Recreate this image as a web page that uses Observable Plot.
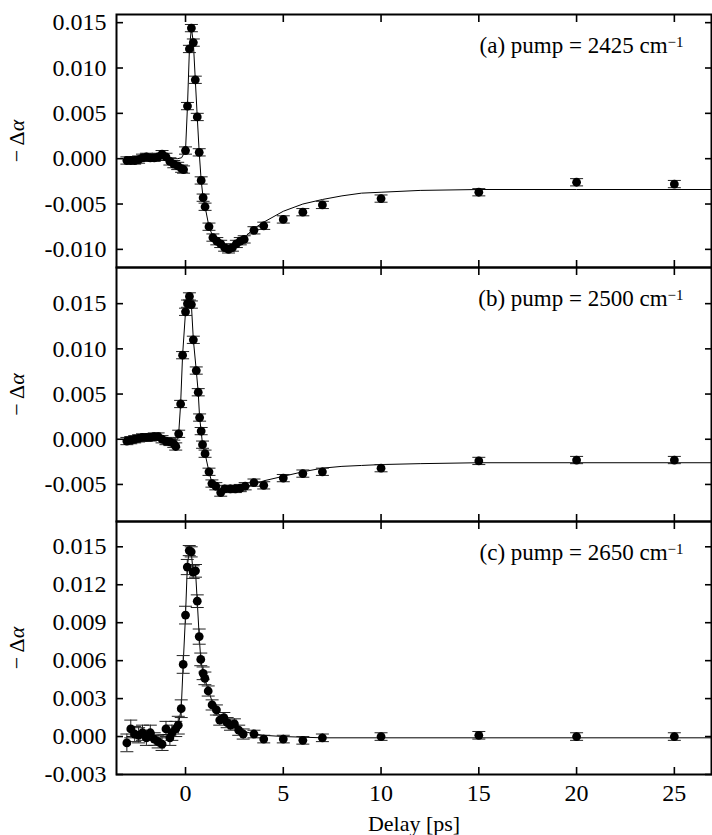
<!DOCTYPE html>
<html><head><meta charset="utf-8">
<script src="https://cdn.jsdelivr.net/npm/d3@7"></script>
<script src="https://cdn.jsdelivr.net/npm/@observablehq/plot@0.6"></script>
<style>
body{margin:0;background:#fff;}
#chart{width:712px;}
#chart svg{display:block;overflow:visible;background:none !important;font-family:"Liberation Serif","DejaVu Serif",serif !important;font-size:24px !important;}
#chart svg text{font-family:"Liberation Serif","DejaVu Serif",serif !important;}
</style></head><body><div id="chart"></div>
<script>
const xTicks = [0, 5, 10, 15, 20, 25];
const xLabel = "Delay [ps]";
const yLabel = "−Δα";

// (a) pump = 2425 cm-1
const aTitle = "(a) pump = 2425 cm";
const aDelay = [-3.0,-2.8,-2.6,-2.4,-2.2,-2.0,-1.8,-1.6,-1.4,-1.2,-1.0,-0.8,-0.6,-0.4,-0.2,-0.1,0.0,0.1,0.2,0.3,0.4,0.5,0.6,0.7,0.8,0.9,1.0,1.2,1.4,1.6,1.8,2.0,2.2,2.4,2.6,2.8,3.0,3.5,4,5,6,7,10,15,20,25];
const aSignal = [-0.0002,-0.0002,-0.0002,-0.0001,0.0001,0.0002,0.0001,0.0001,0.0002,0.0005,0.0002,-0.0003,-0.0006,-0.0008,-0.0011,-0.0012,0.0009,0.0058,0.0121,0.0144,0.0128,0.0087,0.0046,0.0007,-0.0024,-0.0043,-0.0053,-0.0075,-0.0087,-0.0091,-0.0094,-0.0098,-0.0100,-0.0098,-0.0094,-0.0091,-0.0089,-0.0079,-0.0074,-0.0067,-0.0059,-0.0051,-0.0044,-0.0037,-0.0026,-0.0028];
const aError = 0.0004;
const aFitDelay = [-3.0,-0.4,-0.2,0.0,0.1,0.2,0.3,0.4,0.5,0.6,0.7,0.8,0.9,1.0,1.2,1.4,1.7,2.0,2.2,2.5,3.0,3.5,4,5,6,7,8,9,10,12,15,20,27];
const aFitSignal = [0.0,0.0,0.0001,0.0009,0.0058,0.0121,0.0144,0.0128,0.0087,0.0046,0.0007,-0.0024,-0.0043,-0.0053,-0.0075,-0.0086,-0.0093,-0.0097,-0.0099,-0.0096,-0.0087,-0.0077,-0.0070,-0.0058,-0.0050,-0.0045,-0.0041,-0.0038,-0.0037,-0.0035,-0.0034,-0.0034,-0.0034];
const aYDomain = [-0.012, 0.0159];
const aYTicks = [-0.010, -0.005, 0.000, 0.005, 0.010, 0.015];

// (b) pump = 2500 cm-1
const bTitle = "(b) pump = 2500 cm";
const bDelay = [-3.0,-2.8,-2.6,-2.4,-2.2,-2.0,-1.8,-1.6,-1.4,-1.2,-1.0,-0.8,-0.6,-0.5,-0.35,-0.25,-0.15,0.0,0.1,0.2,0.3,0.4,0.55,0.65,0.72,0.8,0.87,1.0,1.2,1.35,1.55,1.8,2.0,2.3,2.55,2.8,3.05,3.5,4,5,6,7,10,15,20,25];
const bSignal = [-0.0002,-0.0001,0.0000,0.0001,0.0002,0.0002,0.0002,0.0003,0.0003,0.0000,-0.0002,-0.0003,-0.0005,-0.0008,0.0006,0.0039,0.0093,0.0141,0.0150,0.0158,0.0149,0.0110,0.0076,0.0052,0.0024,0.0009,-0.0006,-0.0016,-0.0036,-0.0049,-0.0052,-0.0059,-0.0055,-0.0055,-0.0055,-0.0054,-0.0052,-0.0048,-0.0051,-0.0043,-0.0038,-0.0036,-0.0032,-0.0024,-0.0023,-0.0023];
const bError = 0.0004;
const bFitDelay = [-3.0,-0.4,-0.35,-0.25,-0.15,0.0,0.1,0.2,0.3,0.4,0.55,0.65,0.72,0.8,0.87,1.0,1.2,1.35,1.55,1.8,2.0,2.5,3.0,3.5,4,5,6,7,8,9,10,12,15,27];
const bFitSignal = [0.0,0.0,0.0006,0.0039,0.0093,0.0141,0.0150,0.0158,0.0149,0.0110,0.0076,0.0052,0.0024,0.0009,-0.0006,-0.0016,-0.0036,-0.0048,-0.0053,-0.0056,-0.0056,-0.0055,-0.0053,-0.0050,-0.0046,-0.0041,-0.0036,-0.0032,-0.0030,-0.0029,-0.0028,-0.0027,-0.0026,-0.0026];
const bYDomain = [-0.0091, 0.019];
const bYTicks = [-0.005, 0.000, 0.005, 0.010, 0.015];

// (c) pump = 2650 cm-1
const cTitle = "(c) pump = 2650 cm";
const cDelay = [-3.0,-2.8,-2.6,-2.4,-2.2,-2.0,-1.8,-1.6,-1.4,-1.2,-1.0,-0.8,-0.7,-0.5,-0.37,-0.22,-0.12,0.0,0.09,0.19,0.29,0.39,0.51,0.6,0.7,0.78,0.9,0.99,1.16,1.36,1.58,1.75,1.96,2.13,2.3,2.5,2.72,2.95,3.5,4,5,6,7,10,15,20,25];
const cSignal = [-0.0005,0.0006,0.0002,0.0001,0.0003,-0.0001,0.0003,-0.0002,-0.0004,-0.0006,0.0006,-0.0001,0.0003,0.0006,0.0009,0.0022,0.0057,0.0096,0.0134,0.0147,0.0146,0.0130,0.0131,0.0107,0.0079,0.0061,0.0050,0.0046,0.0036,0.0025,0.0021,0.0013,0.0015,0.0011,0.0009,0.0010,0.0005,0.0002,0.0002,-0.0002,-0.0002,-0.0003,-0.0001,0.0000,0.0001,0.0000,0.0000];
const cErrors = [0.0007,0.0007,0.0006,0.0006,0.0006,0.0006,0.0006,0.0005,0.0005,0.0005,0.0006,0.0006,0.0006,0.0006,0.0007,0.0007,0.0007,0.0007,0.0006,0.0004,0.0004,0.0005,0.0005,0.0005,0.0006,0.0005,0.0005,0.0005,0.0004,0.0004,0.0004,0.0004,0.0004,0.0004,0.0004,0.0004,0.0004,0.0004,0.0003,0.0003,0.0003,0.0003,0.0003,0.0003,0.0003,0.0003,0.0003];
const cFitDelay = [-3.0,-0.6,-0.37,-0.22,-0.12,0.0,0.09,0.19,0.29,0.39,0.51,0.6,0.7,0.78,0.9,1.0,1.2,1.4,1.6,1.8,2.0,2.3,2.6,3.0,3.5,4,5,7,27];
const cFitSignal = [0.0,0.0002,0.0009,0.0022,0.0057,0.0096,0.0134,0.0147,0.0146,0.0130,0.0131,0.0107,0.0079,0.0061,0.0050,0.0045,0.0035,0.0026,0.0020,0.0016,0.0013,0.0010,0.0007,0.0004,0.0002,0.0001,0.0000,-0.0001,-0.0001];
const cYDomain = [-0.003, 0.017];
const cYTicks = [-0.003, 0.000, 0.003, 0.006, 0.009, 0.012, 0.015];

const xDomain = [-3.53, 26.9];

const capSymbol = {
  draw(context, size) {
    const r = Math.sqrt(size / Math.PI);
    context.moveTo(-r, 0);
    context.lineTo(r, 0);
  }
};
const fmtY = d => (d < 0 ? "-" : "") + Math.abs(d).toFixed(3);
const blank = () => "";

function panel({delay, signal, errors, fitDelay, fitSignal, yDomain, yTicks, title, marginTop, marginBottom, height, showX}) {
  const pts = delay.map((x, i) => {
    const e = Array.isArray(errors) ? errors[i] : errors;
    return {x, y: signal[i], lo: signal[i] - e, hi: signal[i] + e};
  });
  const fit = fitDelay.map((x, i) => ({x, y: fitSignal[i]}));
  const svg = Plot.plot({
    width: 712, height, marginLeft: 116, marginRight: 1, marginTop, marginBottom,
    x: {domain: xDomain},
    y: {domain: yDomain},
    marks: [
      Plot.line(fit, {x: "x", y: "y", stroke: "black", strokeWidth: 1}),
      Plot.ruleX(pts, {x: "x", y1: "lo", y2: "hi", stroke: "#222", strokeWidth: 1}),
      Plot.dot(pts, {x: "x", y: "lo", symbol: capSymbol, r: 6.5, stroke: "#222", fill: "none", strokeWidth: 1}),
      Plot.dot(pts, {x: "x", y: "hi", symbol: capSymbol, r: 6.5, stroke: "#222", fill: "none", strokeWidth: 1}),
      Plot.dot(pts, {x: "x", y: "y", r: 4.4, fill: "black", stroke: "none"}),
      Plot.axisY({anchor: "left", ticks: yTicks, tickSize: -7, tickPadding: 17, tickFormat: fmtY, strokeWidth: 1.6,
                  label: yLabel, labelAnchor: "center", labelArrow: "none", labelOffset: 108}),
      Plot.axisY({anchor: "right", ticks: yTicks, tickSize: -7, tickFormat: blank, label: null, strokeWidth: 1.6}),
      Plot.axisX({anchor: "top", ticks: xTicks, tickSize: -7, tickFormat: blank, label: null, strokeWidth: 1.6}),
      Plot.axisX({anchor: "bottom", ticks: xTicks, tickSize: -7, tickPadding: 16, strokeWidth: 1.6,
                  tickFormat: showX ? (d => String(d)) : blank,
                  label: showX ? xLabel : null, labelAnchor: "center", labelArrow: "none", labelOffset: 56}),
      Plot.frame({stroke: "black", strokeWidth: 2}),
      Plot.text([title], {frameAnchor: "top-right", dx: -28, dy: 31, textAnchor: "end", lineAnchor: "middle", fontSize: 23})
    ]
  });
  const t = svg.querySelector('g[aria-label="text"] text');
  if (t) {
    const sup = document.createElementNS("http://www.w3.org/2000/svg", "tspan");
    sup.setAttribute("dy", "-0.42em");
    sup.setAttribute("font-size", "15");
    sup.textContent = "−1";
    t.appendChild(sup);
  }
  const yl = svg.querySelector('g[aria-label="y-axis label"] text');
  if (yl) {
    yl.textContent = "− Δ";
    const a = document.createElementNS("http://www.w3.org/2000/svg", "tspan");
    a.setAttribute("font-style", "italic");
    a.textContent = "α";
    yl.appendChild(a);
    yl.setAttribute("font-size", "22");
  }
  const xl = svg.querySelector('g[aria-label="x-axis label"] text');
  if (xl) xl.setAttribute("font-size", "22");
  return svg;
}

const chart = document.getElementById("chart");
chart.appendChild(panel({delay: aDelay, signal: aSignal, errors: aError, fitDelay: aFitDelay, fitSignal: aFitSignal,
  yDomain: aYDomain, yTicks: aYTicks, title: aTitle, marginTop: 14, marginBottom: 0, height: 267, showX: false}));
chart.appendChild(panel({delay: bDelay, signal: bSignal, errors: bError, fitDelay: bFitDelay, fitSignal: bFitSignal,
  yDomain: bYDomain, yTicks: bYTicks, title: bTitle, marginTop: 0, marginBottom: 0, height: 254, showX: false}));
chart.appendChild(panel({delay: cDelay, signal: cSignal, errors: cErrors, fitDelay: cFitDelay, fitSignal: cFitSignal,
  yDomain: cYDomain, yTicks: cYTicks, title: cTitle, marginTop: 0, marginBottom: 61, height: 314, showX: true}));
</script></body></html>
